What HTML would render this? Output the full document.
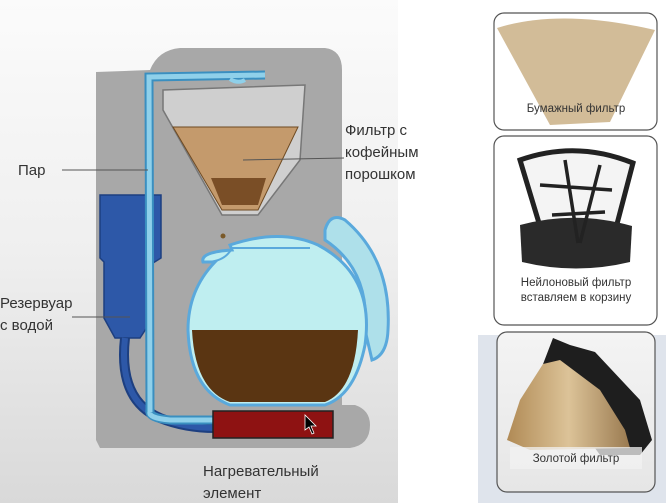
<!DOCTYPE html><html><head><meta charset="utf-8"><style>
html,body{margin:0;padding:0;width:666px;height:503px;overflow:hidden;background:#fff}
svg{display:block}
text{font-family:"Liberation Sans",sans-serif;fill:#333}
</style></head><body>
<svg width="666" height="503" viewBox="0 0 666 503">
<defs>
<linearGradient id="bg" x1="0" y1="0" x2="0" y2="1"><stop offset="0" stop-color="#fbfbfb"/><stop offset="0.5" stop-color="#efefef"/><stop offset="1" stop-color="#d9d9d9"/></linearGradient>
<linearGradient id="gold" x1="0" y1="0" x2="1" y2="0"><stop offset="0" stop-color="#b08a55"/><stop offset="0.5" stop-color="#dcc398"/><stop offset="1" stop-color="#9a7a50"/></linearGradient>
<linearGradient id="card3" x1="0" y1="0" x2="0" y2="1"><stop offset="0" stop-color="#f4f4f4"/><stop offset="1" stop-color="#e6e6e6"/></linearGradient>
</defs>
<rect width="400" height="503" fill="url(#bg)"/>
<rect x="398" y="0" width="268" height="503" fill="#fff"/>
<rect x="478" y="335" width="188" height="168" fill="#dfe4ec"/>
<!-- body -->
<path d="M96,72 L150,70 Q158,50 180,48 L325,48 Q342,50 342,70 L342,405 L355,405 Q370,410 370,425 Q370,445 350,448 L100,448 L96,440 Z" fill="#a8a8a8"/>
<!-- reservoir -->
<path d="M100,195 L161,195 L161,258 L153,263 L153,318 L140,338 L115,338 L104,318 L104,262 L100,258 Z" fill="#2d58a8" stroke="#1d3f80" stroke-width="1.5"/>
<path d="M125,338 Q118,400 160,418 Q185,428 215,428" fill="none" stroke="#1d3f80" stroke-width="10"/>
<path d="M125,338 Q118,400 160,418 Q185,428 215,428" fill="none" stroke="#2d58a8" stroke-width="6"/>
<!-- steam tube -->
<path d="M150,410 Q148,418 170,420 L215,420 M150,412 L149,77 L265,75" fill="none" stroke="#3a8fc0" stroke-width="9"/>
<path d="M150,412 Q148,418 170,420 L215,420 M150,412 L149,77 L265,75" fill="none" stroke="#8fd0ea" stroke-width="5"/>
<path d="M230,79 Q238,84 245,80" stroke="#8fd0ea" stroke-width="4" fill="none"/>
<circle cx="236" cy="98" r="2" fill="#6ab0da"/><circle cx="243" cy="100" r="2" fill="#6ab0da"/><circle cx="239" cy="110" r="2" fill="#6ab0da"/>
<!-- filter -->
<path d="M163,90 L305,85 L300,160 L258,215 L222,215 L163,110 Z" fill="#cfcfcf" stroke="#777" stroke-width="1.5"/>
<path d="M173,127 L298,127 L258,210 L222,210 Z" fill="#c49a6c" stroke="#6e4a22" stroke-width="1"/>
<path d="M211,178 L266,178 L258,205 L222,205 Z" fill="#7a4e26"/>
<circle cx="223" cy="236" r="2.5" fill="#7a5a2a"/><circle cx="220" cy="284" r="2.5" fill="#7a5a2a"/><circle cx="217" cy="300" r="2.5" fill="#7a5a2a"/>
<!-- handle -->
<path d="M325,230 Q330,212 345,220 Q392,260 388,330 Q387,355 372,360 L365,330 Q370,270 325,240 Z" fill="#aee0ea" stroke="#5aa9dc" stroke-width="3"/>
<!-- jug -->
<path d="M230,245 Q280,228 318,245 Q375,275 365,345 Q355,395 325,405 L230,405 Q190,390 188,330 Q188,290 215,262 L203,262 Q200,252 232,250 Z" fill="#bfeef0" stroke="#5aa9dc" stroke-width="3"/>
<path d="M192,330 L358,330 Q355,390 325,402 L230,402 Q195,390 192,330 Z" fill="#5a3512"/>
<path d="M205,262 Q225,262 232,248 L310,248" fill="none" stroke="#5aa9dc" stroke-width="2"/>
<!-- heater -->
<rect x="213" y="411" width="120" height="27" fill="#8e1212" stroke="#222" stroke-width="1.5"/>
<path d="M305,415 L305,430 L309,427 L312,434 L314,433 L311,426 L316,426 Z" fill="#000" stroke="#fff" stroke-width="0.8"/>
<!-- labels -->
<g stroke="#555" stroke-width="1"><line x1="62" y1="170" x2="148" y2="170"/><line x1="243" y1="160" x2="344" y2="158"/><line x1="72" y1="317" x2="130" y2="317"/></g>
<g font-size="15">
<text x="18" y="175">Пар</text>
<text x="345" y="135">Фильтр с</text><text x="345" y="157">кофейным</text><text x="345" y="179">порошком</text>
<text x="0" y="308">Резервуар</text><text x="0" y="330">с водой</text>
<text x="203" y="476">Нагревательный</text><text x="203" y="498">элемент</text>
</g>
<!-- cards -->
<rect x="494" y="13" width="163" height="117" rx="10" fill="#fff" stroke="#555" stroke-width="1.2"/>
<path d="M497,28 Q560,8 655,30 L610,122 L550,125 Z" fill="#d2bc98"/>
<text x="576" y="112" font-size="11.5" text-anchor="middle" fill="#222">Бумажный фильтр</text>
<rect x="494" y="136" width="163" height="189" rx="10" fill="#fff" stroke="#555" stroke-width="1.2"/>
<path d="M520,160 Q576,140 633,163 L612,243 L545,243 Z" fill="#f4f4f4" stroke="#222" stroke-width="5"/>
<path d="M520,225 Q576,210 632,226 L630,262 Q576,275 522,262 Z" fill="#2a2a2a"/>
<path d="M540,185 L612,190 M552,215 L605,212 M565,160 L578,243 M600,165 L580,243" stroke="#222" stroke-width="3.5"/>
<text x="576" y="286" font-size="11.5" text-anchor="middle" fill="#222">Нейлоновый фильтр</text>
<text x="576" y="301" font-size="11.5" text-anchor="middle" fill="#222">вставляем в корзину</text>
<rect x="497" y="332" width="158" height="160" rx="10" fill="url(#card3)" stroke="#555" stroke-width="1.2"/>
<path d="M553,338 L570,345 L595,352 L640,400 L652,440 L640,455 L600,455 L540,372 Z" fill="#1e1e1e"/>
<path d="M543,364 L560,360 L600,390 L625,430 L630,448 L530,450 L507,440 L520,400 Z" fill="url(#gold)"/>
<rect x="510" y="447" width="132" height="22" fill="#f2f2f2" opacity="0.75"/>
<text x="576" y="462" font-size="11.5" text-anchor="middle" fill="#222">Золотой фильтр</text>
</svg>
</body></html>
